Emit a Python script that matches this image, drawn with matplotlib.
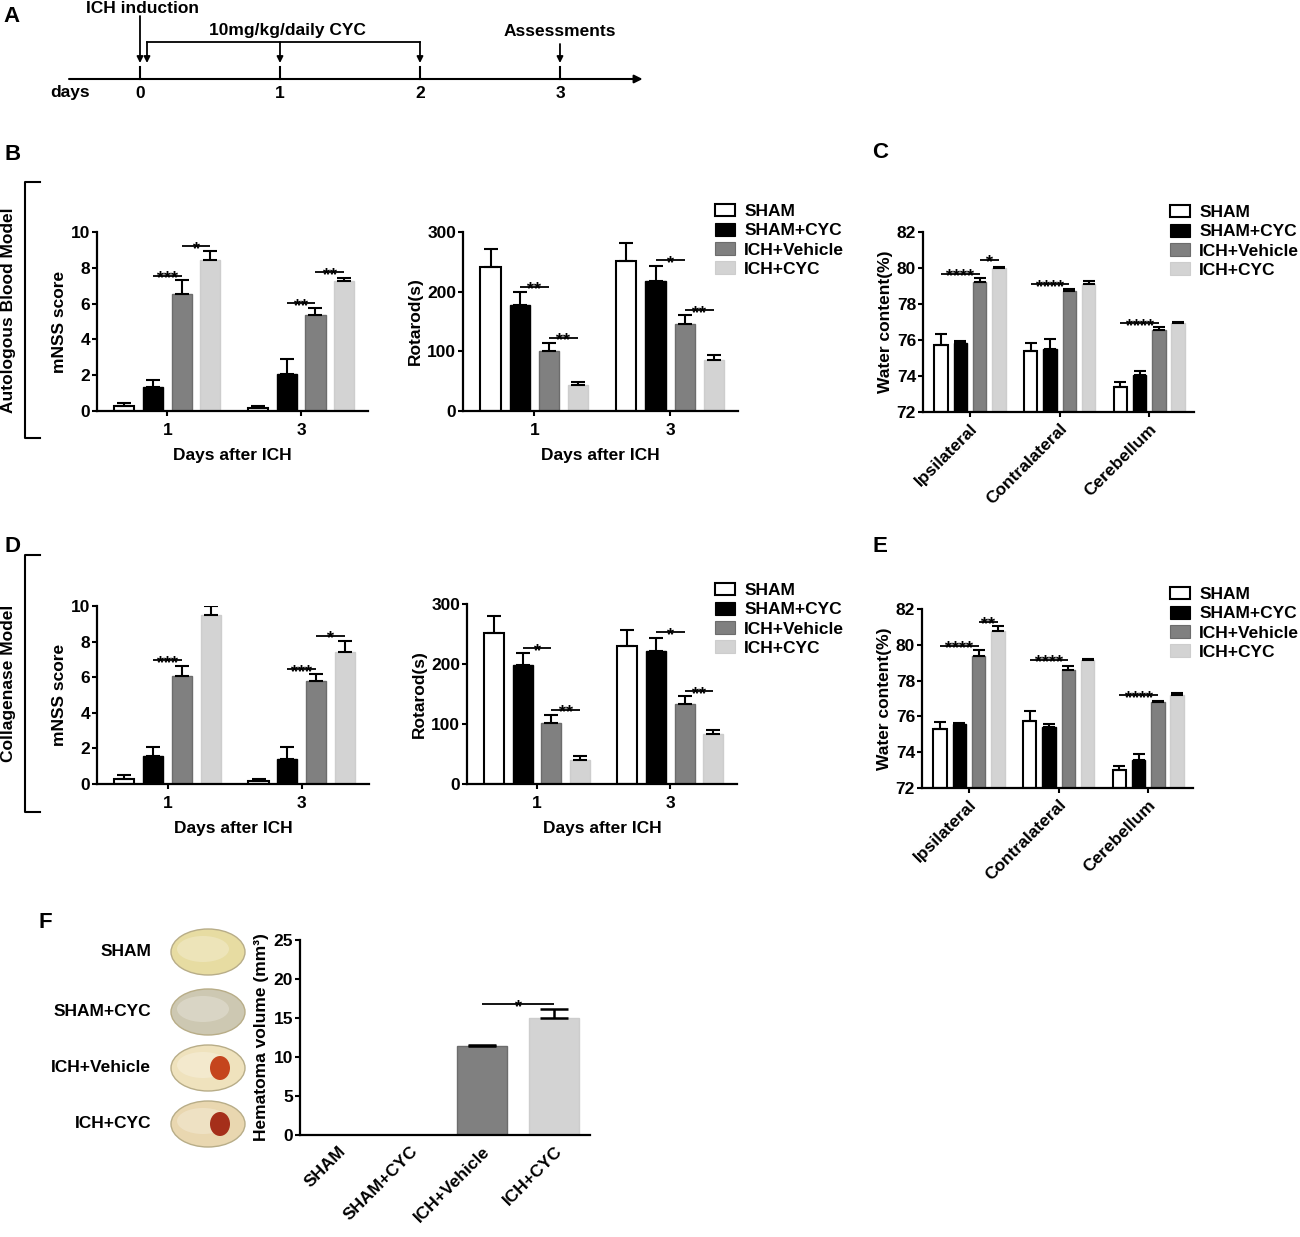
import matplotlib
matplotlib.use("Agg")
import matplotlib.pyplot as plt
import numpy as np
from matplotlib.patches import Patch, Ellipse

plt.rcParams['font.family'] = ['Liberation Sans', 'DejaVu Sans']
plt.rcParams['font.weight'] = 'bold'
plt.rcParams['axes.labelweight'] = 'bold'
plt.rcParams['font.size'] = 12.5

# ---------------- data ----------------
groups = ['SHAM', 'SHAM+CYC', 'ICH+Vehicle', 'ICH+CYC']
days_after = ['1', '3']
regions = ['Ipsilateral', 'Contralateral', 'Cerebellum']

# rows = groups, columns = categories
mnss_b = [[0.28, 0.15], [1.34, 2.07], [6.53, 5.35], [8.45, 7.24]]
mnss_b_err = [[0.19, 0.11], [0.38, 0.84], [0.77, 0.43], [0.51, 0.19]]
rot_b = [[241.5, 251], [178, 218], [100, 145], [43.5, 85]]
rot_b_err = [[29.5, 30], [21, 25], [14, 15.6], [5, 9]]
water_c = [[75.70, 75.41, 73.37], [75.81, 75.52, 74.04],
           [79.22, 78.70, 76.57], [80.00, 79.11, 76.94]]
water_c_err = [[0.65, 0.40, 0.32], [0.13, 0.54, 0.22],
               [0.21, 0.15, 0.13], [0.06, 0.19, 0.08]]

mnss_d = [[0.30, 0.17], [1.55, 1.42], [6.06, 5.78], [9.50, 7.41]]
mnss_d_err = [[0.19, 0.13], [0.52, 0.67], [0.58, 0.38], [0.48, 0.65]]
rot_d = [[251.7, 229.4], [197.8, 221], [101.7, 133.3], [40.6, 83.3]]
rot_d_err = [[27.7, 27.3], [21.1, 22.3], [12.7, 13.9], [6.1, 6.1]]
water_e = [[75.29, 75.72, 73.02], [75.57, 75.40, 73.58],
           [79.40, 78.60, 76.78], [80.77, 79.16, 77.20]]
water_e_err = [[0.39, 0.56, 0.23], [0.05, 0.17, 0.33],
               [0.31, 0.24, 0.07], [0.28, 0.05, 0.13]]

hematoma = [0, 0, 11.43, 14.98]
hematoma_err = [0, 0, 0.17, 1.15]

# significance: (category, bar i, bar j, y, label)
sig_mnss_b = [(0, 1, 2, 7.56, '***'), (0, 2, 3, 9.2, '*'), (1, 1, 2, 6.03, '**'), (1, 2, 3, 7.74, '**')]
sig_rot_b = [(0, 1, 2, 208, '**'), (0, 2, 3, 123, '**'), (1, 1, 2, 253, '*'), (1, 2, 3, 169, '**')]
sig_water_c = [(0, 0, 2, 79.69, '****'), (0, 2, 3, 80.46, '*'), (1, 0, 2, 79.11, '****'), (2, 0, 2, 76.94, '****')]
sig_mnss_d = [(0, 1, 2, 6.96, '***'), (0, 2, 3, 10.32, '**'), (1, 1, 2, 6.46, '***'), (1, 2, 3, 8.32, '*')]
sig_rot_d = [(0, 1, 2, 226.7, '*'), (0, 2, 3, 123.9, '**'), (1, 1, 2, 252.8, '*'), (1, 2, 3, 154.4, '**')]
sig_water_e = [(0, 0, 2, 79.96, '****'), (0, 2, 3, 81.29, '**'), (1, 0, 2, 79.16, '****'), (2, 0, 2, 77.17, '****')]
sig_hematoma = [(2, 3, 16.8, '*')]

timeline_days = [0, 1, 2, 3]
dose_days = [0, 1, 2]

# ---------------- style ----------------
face = ['white', 'black', '#808080', '#d3d3d3']
edge = ['black', 'black', '#6c6c6c', '#cdcdcd']
offsets = np.array([-1.5, -0.5, 0.5, 1.5]) * 0.215
bar_w = 0.15

W, H = 1300, 1237
fig = plt.figure(figsize=(13, 12.37), dpi=100)


def px_axes(x0, y0, x1, y1):
    return fig.add_axes([x0 / W, 1 - y1 / H, (x1 - x0) / W, (y1 - y0) / H])


def style_axes(ax):
    for s in ['top', 'right']:
        ax.spines[s].set_visible(False)
    for s in ['left', 'bottom']:
        ax.spines[s].set_linewidth(1.6)
    ax.tick_params(direction='out', length=3.5, width=1.5, pad=1.5)
    ax.tick_params(axis='x', pad=5)


def sig_mark(ax, x0, x1, y, label):
    ax.plot([x0, x1], [y, y], color='black', lw=1.3, solid_capstyle='butt')
    ax.annotate(label, xy=((x0 + x1) / 2, y), xytext=(0, -5.5), textcoords='offset points',
                ha='center', va='baseline', fontsize=13)


def grouped(ax, means, errs, cats, ylim, ticks, sigs, capsize=5):
    x = np.arange(len(cats))
    base = ylim[0]
    for i in range(4):
        xi = x + offsets[i]
        m = np.array(means[i])
        ax.bar(xi, m - base, bar_w, bottom=base, color=face[i], edgecolor=edge[i],
               linewidth=1.5 if i == 0 else 1.0, zorder=2)
        ax.errorbar(xi, m, yerr=[np.zeros(len(m)), errs[i]], fmt='none', ecolor='black',
                    elinewidth=1.5, capsize=capsize, capthick=1.5, zorder=3)
    for c, i, j, y, lab in sigs:
        sig_mark(ax, c + offsets[i], c + offsets[j], y, lab)
    ax.set_xlim(-0.525, len(cats) - 0.5)
    ax.set_ylim(*ylim)
    ax.set_yticks(ticks)
    ax.set_xticks(x)
    style_axes(ax)


def add_legend(x, y):
    handles = [Patch(facecolor=face[i], edgecolor=edge[i] if i else 'black',
                     linewidth=1.5 if i == 0 else 0.8) for i in range(4)]
    fig.legend(handles, groups, loc='upper left', bbox_to_anchor=(x / W, 1 - y / H),
               frameon=False, borderpad=0, handlelength=1.15, handleheight=0.75,
               handletextpad=0.55, labelspacing=0.22, fontsize=12.5)


# background overlay for brackets, labels, pictures
bg = fig.add_axes([0, 0, 1, 1])
bg.set_xlim(0, W)
bg.set_ylim(H, 0)
bg.axis('off')

for lab, (lx, ly) in {'A': (3, 17), 'B': (5, 155), 'C': (872, 153),
                      'D': (5, 547), 'E': (872, 547), 'F': (38, 922)}.items():
    bg.text(lx, ly, lab, fontsize=16, fontweight='bold', ha='left', va='center')

for top, bot, name in [(182, 438, 'Autologous Blood Model'), (555, 812, 'Collagenase Model')]:
    bg.plot([40, 25, 25, 40], [top, top, bot, bot], color='black', lw=1.5)
    bg.text(9, (top + bot) / 2, name, rotation=90, ha='center', va='center', fontsize=12.5)

# ---------------- A: timeline ----------------
axA = px_axes(60, 0, 650, 110)
axA.set_xlim(-4 / 7, 3.643)
axA.set_ylim(110, 0)
axA.axis('off')
axA.annotate('', xy=(3.59, 79), xytext=(-0.507, 79),
             arrowprops=dict(arrowstyle='-|>', lw=1.5, color='black', mutation_scale=12,
                             shrinkA=0, shrinkB=0))
for d in timeline_days:
    axA.plot([d, d], [67, 79], color='black', lw=1.5)
    axA.text(d, 93, str(d), ha='center', va='center')
axA.text(-0.5, 93, 'days', ha='center', va='center')
arrow = dict(arrowstyle='-|>', lw=1.3, color='black', mutation_scale=9, shrinkA=0, shrinkB=0)
axA.annotate('', xy=(0, 63), xytext=(0, 16), arrowprops=arrow)
axA.text(0.02, 8.5, 'ICH induction', ha='center', va='center')
start = dose_days[0] + 0.05
axA.plot([start, dose_days[-1]], [42, 42], color='black', lw=1.3)
for d in dose_days:
    xd = start if d == dose_days[0] else d
    axA.annotate('', xy=(xd, 63), xytext=(xd, 42), arrowprops=arrow)
axA.text(1.05, 31, '10mg/kg/daily CYC', ha='center', va='center')
axA.annotate('', xy=(3, 63), xytext=(3, 44), arrowprops=arrow)
axA.text(3, 31, 'Assessments', ha='center', va='center')

# ---------------- B ----------------
ax = px_axes(97, 232, 368, 411)
grouped(ax, mnss_b, mnss_b_err, days_after, (0, 10), [0, 2, 4, 6, 8, 10], sig_mnss_b)
ax.set_xticklabels(days_after)
ax.set_ylabel('mNSS score', labelpad=3)
ax.set_xlabel('Days after ICH', labelpad=7)

ax = px_axes(463, 232, 738, 411)
grouped(ax, rot_b, rot_b_err, days_after, (0, 300), [0, 100, 200, 300], sig_rot_b)
ax.set_xticklabels(days_after)
ax.set_ylabel('Rotarod(s)', labelpad=3)
ax.set_xlabel('Days after ICH', labelpad=7)
add_legend(706, 195)

# ---------------- C ----------------
ax = px_axes(923, 232, 1194, 412)
grouped(ax, water_c, water_c_err, regions, (72, 82), [72, 74, 76, 78, 80, 82], sig_water_c, capsize=4)
ax.set_xticklabels(regions, rotation=45, ha='right', rotation_mode='anchor')
ax.tick_params(axis='x', pad=3)
ax.set_ylabel('Water content(%)', labelpad=3)
add_legend(1161, 196)

# ---------------- D ----------------
ax = px_axes(97, 606, 369, 784)
grouped(ax, mnss_d, mnss_d_err, days_after, (0, 10), [0, 2, 4, 6, 8, 10], sig_mnss_d)
ax.set_xticklabels(days_after)
ax.set_ylabel('mNSS score', labelpad=3)
ax.set_xlabel('Days after ICH', labelpad=7)

ax = px_axes(467, 604, 737, 784)
grouped(ax, rot_d, rot_d_err, days_after, (0, 300), [0, 100, 200, 300], sig_rot_d)
ax.set_xticklabels(days_after)
ax.set_ylabel('Rotarod(s)', labelpad=3)
ax.set_xlabel('Days after ICH', labelpad=7)
add_legend(706, 574)

# ---------------- E ----------------
ax = px_axes(922, 609, 1193, 788)
grouped(ax, water_e, water_e_err, regions, (72, 82), [72, 74, 76, 78, 80, 82], sig_water_e, capsize=4)
ax.set_xticklabels(regions, rotation=45, ha='right', rotation_mode='anchor')
ax.tick_params(axis='x', pad=3)
ax.set_ylabel('Water content(%)', labelpad=3)
add_legend(1161, 578)

# ---------------- F ----------------
ax = px_axes(300, 940, 590, 1135)
xf = np.arange(len(groups))
ax.bar(xf, hematoma, 0.7, color=face, edgecolor=edge, linewidth=1.0, zorder=2)
has_err = [i for i in xf if hematoma[i] > 0]
ax.errorbar(xf[has_err], np.array(hematoma)[has_err],
            yerr=[np.zeros(len(has_err)), np.array(hematoma_err)[has_err]],
            fmt='none', ecolor='black', elinewidth=1.8, capsize=10, capthick=1.8, zorder=3)
for i, j, y, lab in sig_hematoma:
    sig_mark(ax, i, j, y, lab)
ax.set_xlim(-0.53, 3.5)
ax.set_ylim(0, 25)
ax.set_yticks([0, 5, 10, 15, 20, 25])
ax.set_xticks(xf)
ax.set_xticklabels(groups, rotation=45, ha='right', rotation_mode='anchor')
style_axes(ax)
ax.tick_params(axis='x', length=0, pad=6)
ax.set_ylabel('Hematoma volume (mm³)', labelpad=3)

# brain slice pictures
brain_y = [952, 1012, 1068, 1124]
brain_face = ['#e7dca2', '#cdc8b2', '#efe2bd', '#e9d7b0']
blob = [None, None, '#c5451d', '#a52f1a']
for k, g in enumerate(groups):
    yb = brain_y[k]
    bg.text(151, yb, g, ha='right', va='center', fontsize=12.5)
    bg.add_patch(Ellipse((208, yb), 74, 46, facecolor=brain_face[k], edgecolor='#b8ad88', lw=1))
    bg.add_patch(Ellipse((203, yb - 3), 52, 26, facecolor='white', alpha=0.25, lw=0))
    if blob[k]:
        bg.add_patch(Ellipse((220, yb), 20, 24, facecolor=blob[k], edgecolor='none'))

fig.savefig('out.png', dpi=100)
